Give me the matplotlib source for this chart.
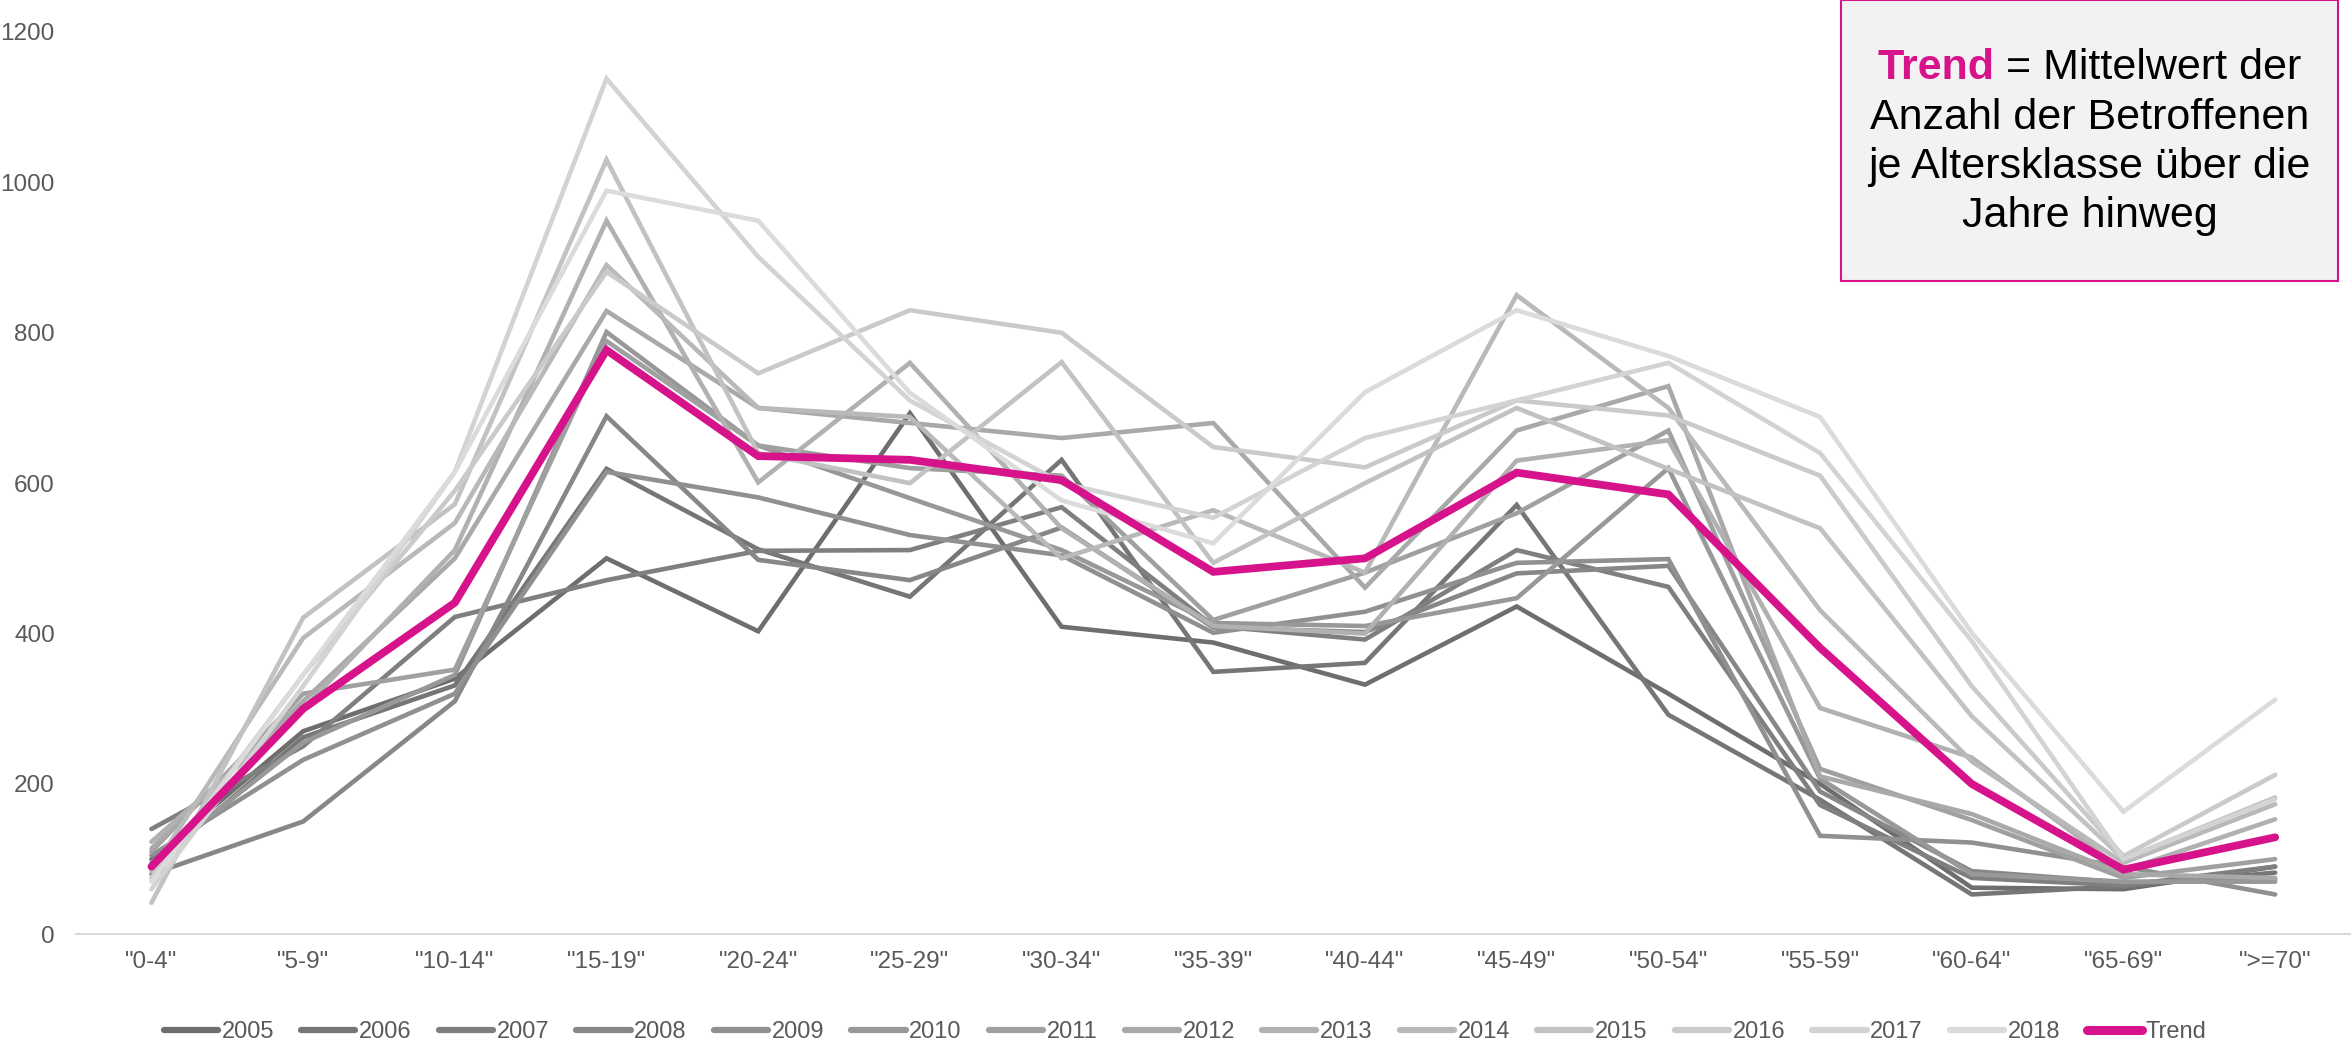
import matplotlib
matplotlib.use("Agg")
import matplotlib.pyplot as plt
from matplotlib.patches import Rectangle
import numpy as np

categories = ['"0-4"', '"5-9"', '"10-14"', '"15-19"', '"20-24"', '"25-29"', '"30-34"',
              '"35-39"', '"40-44"', '"45-49"', '"50-54"', '"55-59"', '"60-64"', '"65-69"', '">=70"']
years = [str(y) for y in range(2005, 2019)]

y2005 = [100, 270, 340, 500, 403, 693, 409, 388, 332, 436, 320, 200, 62, 60, 90]
y2006 = [90, 262, 331, 619, 512, 449, 631, 349, 361, 571, 292, 179, 53, 64, 82]
y2007 = [140, 250, 422, 471, 510, 511, 568, 410, 392, 511, 462, 172, 75, 65, 90]
y2008 = [80, 150, 310, 689, 498, 471, 541, 408, 402, 480, 490, 190, 84, 69, 73]
y2009 = [105, 232, 320, 615, 581, 531, 504, 401, 429, 494, 499, 131, 122, 90, 53]
y2010 = [95, 255, 345, 801, 650, 580, 511, 414, 410, 447, 620, 207, 80, 70, 70]
y2011 = [110, 320, 352, 789, 650, 620, 610, 418, 481, 560, 670, 220, 152, 75, 100]
y2012 = [114, 310, 500, 829, 700, 680, 660, 680, 461, 670, 729, 210, 160, 80, 75]
y2013 = [123, 300, 511, 949, 601, 760, 540, 410, 400, 630, 657, 301, 235, 85, 153]
y2014 = [84, 394, 547, 890, 700, 688, 500, 564, 481, 850, 700, 431, 230, 95, 173]
y2015 = [42, 421, 572, 1030, 640, 600, 761, 494, 600, 700, 619, 540, 290, 100, 182]
y2016 = [75, 345, 590, 881, 746, 830, 800, 648, 621, 710, 690, 610, 330, 104, 212]
y2017 = [60, 330, 615, 1138, 901, 710, 600, 554, 660, 710, 760, 640, 390, 100, 180]
y2018 = [70, 345, 615, 989, 949, 720, 577, 520, 721, 830, 769, 688, 401, 163, 312]
trend = [90, 300, 441, 777, 636, 631, 604, 482, 500, 614, 585, 381, 200, 86, 129]

series = [y2005, y2006, y2007, y2008, y2009, y2010, y2011, y2012, y2013, y2014,
          y2015, y2016, y2017, y2018]

W, H = 2351, 1048
fig = plt.figure(figsize=(W / 100, H / 100), dpi=100)
plt.rcParams['font.family'] = ['Liberation Sans', 'DejaVu Sans']

left = 75.6 / W
bottom = 1 - 934.3 / H
top = 1 - 32 / H
ax = fig.add_axes([left, bottom, 1.0 - left, top - bottom])

x = np.arange(len(categories))
g0, g1 = 0x6e, 0xdb
lines = []
for i, (yr, vals) in enumerate(zip(years, series)):
    g = int(round(g0 + (g1 - g0) * i / (len(series) - 1)))
    col = '#%02x%02x%02x' % (g, g, g)
    ln, = ax.plot(x, vals, color=col, lw=3.3, solid_capstyle='round',
                  solid_joinstyle='miter', label=yr)
    lines.append(ln)
ln, = ax.plot(x, trend, color='#d6138a', lw=5.6, solid_capstyle='round',
              solid_joinstyle='miter', label='Trend')
lines.append(ln)

ax.set_xlim(-0.5, len(categories) - 0.5)
ax.set_ylim(0, 1200)
ax.set_yticks(range(0, 1201, 200))
ax.set_xticks(x)
ax.set_xticklabels(categories)
for s in ['top', 'right', 'left']:
    ax.spines[s].set_visible(False)
ax.spines['bottom'].set_color('#d9d9d9')
ax.spines['bottom'].set_linewidth(1.5)
ax.tick_params(axis='both', length=0, labelsize=17.5, labelcolor='#595959')
ax.tick_params(axis='y', pad=15)
ax.tick_params(axis='x', pad=12)

leg = fig.legend(handles=lines, loc='center', bbox_to_anchor=(0.504, 1 - 1032 / H),
                 ncol=15, frameon=False, fontsize=17, handlelength=2.3,
                 handletextpad=0.15, columnspacing=1.15)
for t in leg.get_texts():
    t.set_color('#595959')
for lh in leg.get_lines():
    lh.set_solid_capstyle('round')
    lh.set_linewidth(4.5)
leg.get_lines()[-1].set_linewidth(6.5)

# annotation box
bx0, bx1, by0, by1 = 1841, 2338, 0, 281
rect = Rectangle((bx0 / W, 1 - by1 / H), (bx1 - bx0) / W, (by1 - by0) / H,
                 transform=fig.transFigure, facecolor='#f2f2f2', edgecolor='#d6138a',
                 linewidth=1.5, zorder=5)
fig.patches.append(rect)
cx = (bx0 + bx1) / 2
line_y = [68, 118, 167, 216]
fs = 31
fig.canvas.draw()
r = fig.canvas.get_renderer()
t1 = fig.text(0, 1 - line_y[0] / H, "Trend", fontsize=fs, weight='bold', color='#d6138a',
              va='center', ha='left', zorder=6)
t2 = fig.text(0, 1 - line_y[0] / H, " = Mittelwert der", fontsize=fs, color='black',
              va='center', ha='left', zorder=6)
w1 = t1.get_window_extent(r).width
w2 = t2.get_window_extent(r).width
start = cx - (w1 + w2) / 2
t1.set_x(start / W)
t2.set_x((start + w1) / W)
for txt, yy in zip(["Anzahl der Betroffenen", "je Altersklasse über die", "Jahre hinweg"], line_y[1:]):
    fig.text(cx / W, 1 - yy / H, txt, fontsize=fs, color='black', va='center', ha='center', zorder=6)

fig.savefig("out.png", dpi=100)
